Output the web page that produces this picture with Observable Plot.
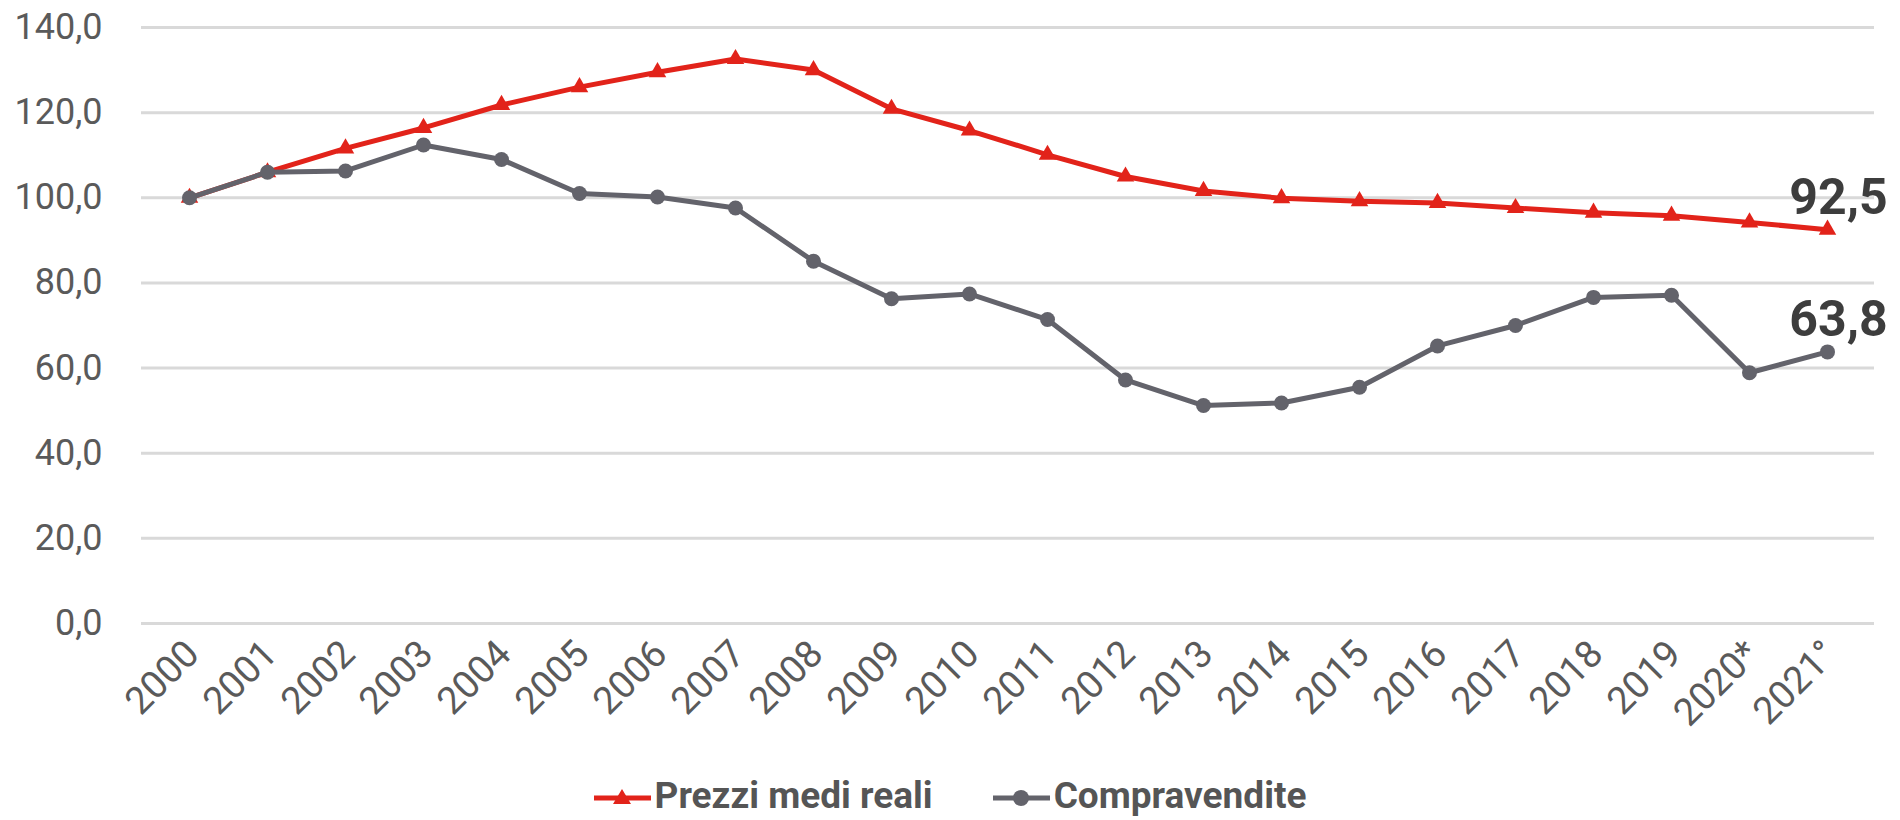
<!DOCTYPE html>
<html>
<head>
<meta charset="utf-8">
<script src="https://cdn.jsdelivr.net/npm/d3@7"></script>
<script src="https://cdn.jsdelivr.net/npm/@observablehq/plot@0.6"></script>
<style>
  html, body { margin: 0; padding: 0; background: #fff; }
  #chart { width: 1900px; }
  #legend { display: flex; justify-content: center; align-items: center; height: 50px; font-family: Roboto, sans-serif; font-weight: bold; font-size: 37px; color: #555; }
  .item { display: flex; align-items: center; }
  .item svg { margin-right: 4px; }
</style>
</head>
<body>
<div id="chart"></div>
<div id="legend"></div>
<script>
const years = ["2000","2001","2002","2003","2004","2005","2006","2007","2008","2009","2010","2011","2012","2013","2014","2015","2016","2017","2018","2019","2020*","2021°"];
const prezzi = [100.0,106.0,111.6,116.4,121.8,126.0,129.5,132.6,130.0,120.9,115.8,110.1,105.0,101.6,99.9,99.2,98.8,97.6,96.5,95.8,94.2,92.5];
const compravendite = [100.0,106.0,106.3,112.4,109.0,101.0,100.2,97.6,85.1,76.3,77.4,71.4,57.2,51.2,51.8,55.5,65.2,70.0,76.6,77.1,58.9,63.8];
const yTicks = [0,20,40,60,80,100,120,140];
const seriesNames = ["Prezzi medi reali","Compravendite"];
const colors = ["#e2231a","#63636b"];

const fmt = d => d.toFixed(1).replace(".", ",");
const rowsP = years.map((y,i) => ({year:y, value:prezzi[i]}));
const rowsC = years.map((y,i) => ({year:y, value:compravendite[i]}));

const chart = Plot.plot({
  width: 1900,
  height: 770,
  marginLeft: 141,
  marginRight: 26,
  marginTop: 27,
  marginBottom: 147,
  style: {fontFamily: "Roboto, sans-serif", color: "#5a5a5a", background: "#fff", overflow: "visible"},
  x: {type: "point", domain: years, padding: 0.5, label: null},
  y: {domain: [0,140], label: null},
  marks: [
    Plot.gridY(yTicks, {stroke: "#d9d9d9", strokeOpacity: 1, strokeWidth: 3}),
    Plot.axisY(yTicks, {tickSize: 0, tickPadding: 39, tickFormat: fmt, fontSize: 36, label: null}),
    Plot.axisX({tickSize: 0, tickRotate: -45, tickPadding: 24, dx: 3, fontSize: 38, label: null}),
    Plot.line(rowsP, {x: "year", y: "value", stroke: colors[0], strokeWidth: 5}),
    Plot.dot(rowsP, {x: "year", y: "value", fill: colors[0], symbol: "triangle", r: 6.5}),
    Plot.line(rowsC, {x: "year", y: "value", stroke: colors[1], strokeWidth: 5}),
    Plot.dot(rowsC, {x: "year", y: "value", fill: colors[1], r: 7.5}),
    Plot.text([rowsP[rowsP.length-1], rowsC[rowsC.length-1]], {x: "year", y: "value", text: d => fmt(d.value), dx: 11, dy: -16, lineAnchor: "bottom", textAnchor: "middle", fontSize: 50, fontWeight: "bold", fill: "#3d3d3d"})
  ]
});
document.getElementById("chart").appendChild(chart);

const legend = document.getElementById("legend");
seriesNames.forEach((name, i) => {
  const item = document.createElement("div");
  item.className = "item";
  if (i > 0) item.style.marginLeft = "60px";
  const sym = i === 0
    ? `<path d="M28,19 L37,34 L19,34 Z" fill="${colors[i]}"/>`
    : `<circle cx="28" cy="28" r="8" fill="${colors[i]}"/>`;
  item.innerHTML = `<svg width="57" height="50" viewBox="0 0 57 50"><line x1="0" y1="28" x2="57" y2="28" stroke="${colors[i]}" stroke-width="5"/>${sym}</svg><span>${name}</span>`;
  legend.appendChild(item);
});
</script>
</body>
</html>
